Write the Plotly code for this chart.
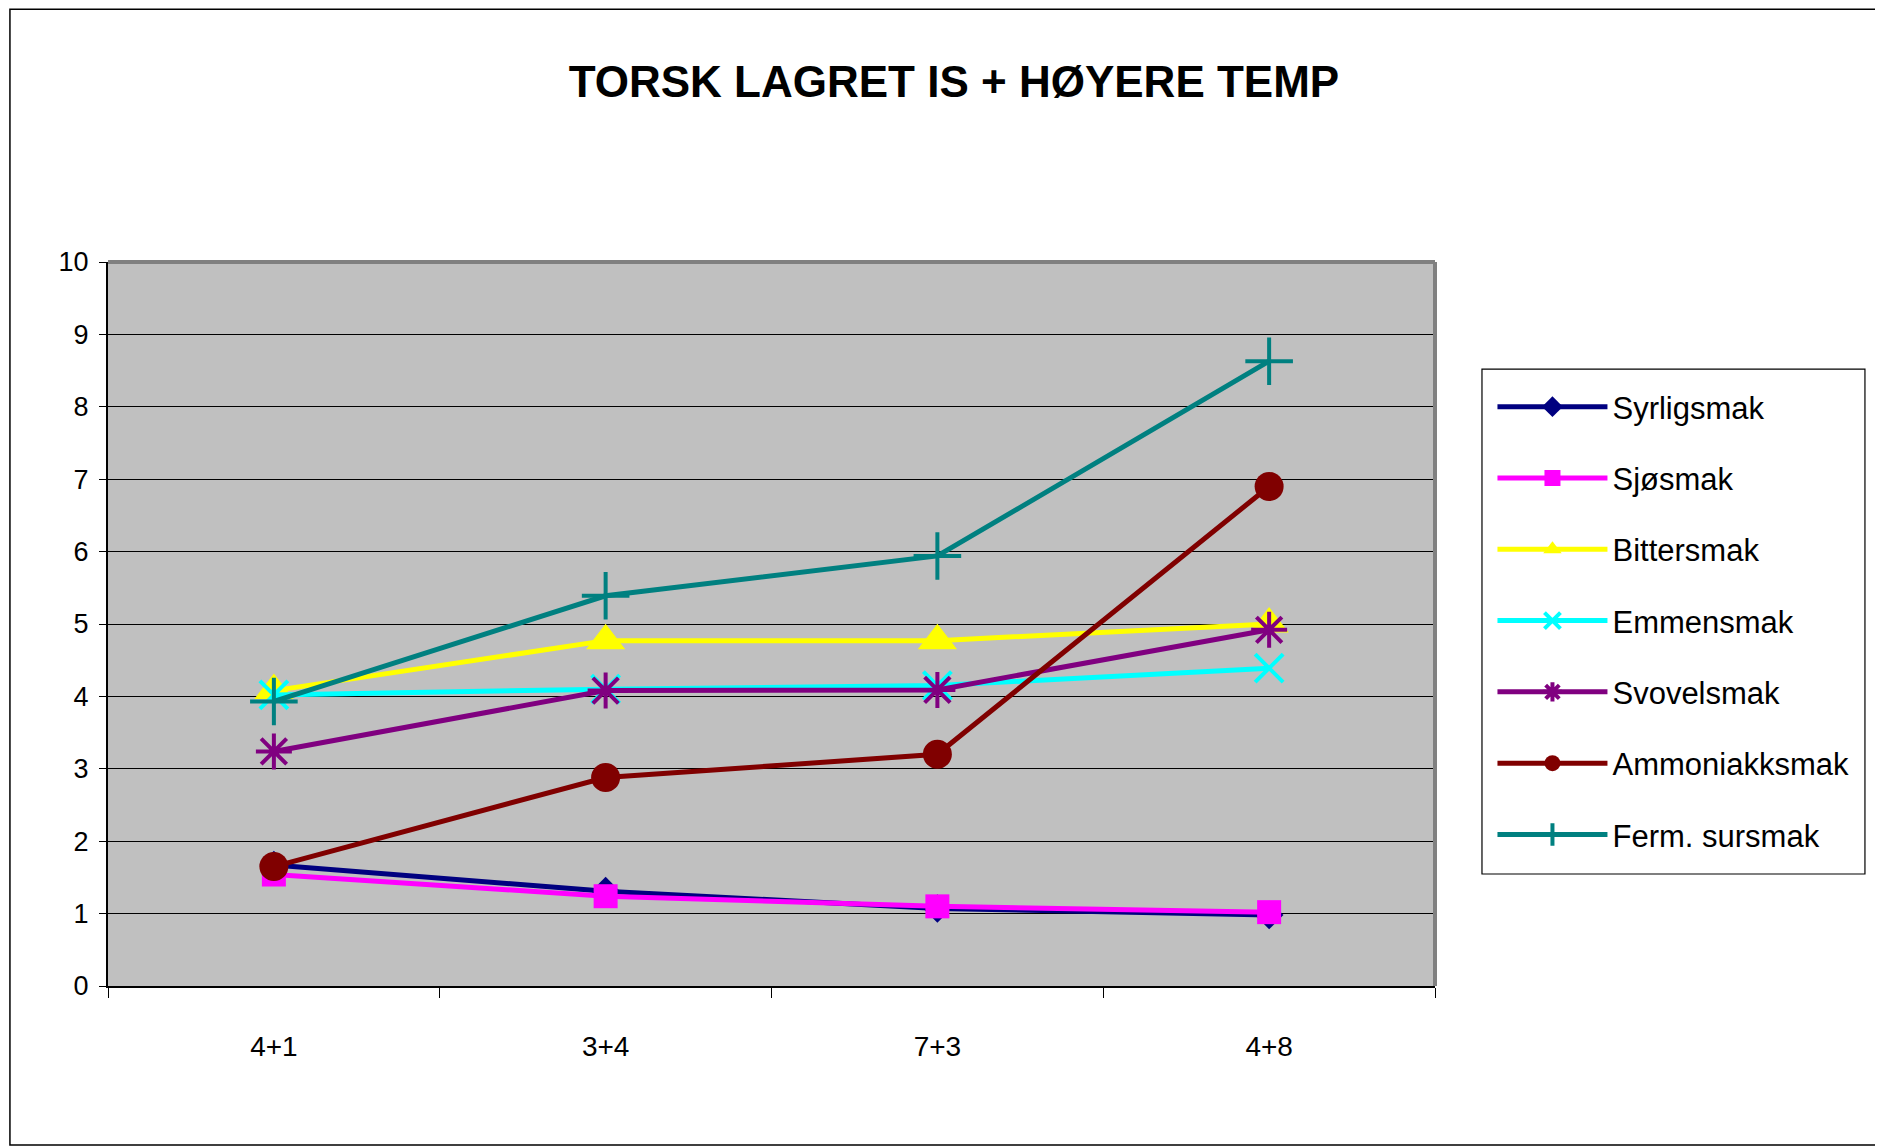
import plotly.graph_objects as go

# Data
categories = ['4+1', '3+4', '7+3', '4+8']

syrligsmak = [1.67, 1.31, 1.07, 0.98]
sjosmak = [1.54, 1.24, 1.10, 1.02]
bittersmak = [4.08, 4.77, 4.77, 5.00]
emmensmak = [4.02, 4.10, 4.15, 4.39]
svovelsmak = [3.24, 4.08, 4.09, 4.92]
ammoniakksmak = [1.65, 2.88, 3.20, 6.90]
fermsursmak = [3.93, 5.39, 5.94, 8.63]

series_names = ['Syrligsmak', 'Sjøsmak', 'Bittersmak', 'Emmensmak',
                'Svovelsmak', 'Ammoniakksmak', 'Ferm. sursmak']
series_values = [syrligsmak, sjosmak, bittersmak, emmensmak,
                 svovelsmak, ammoniakksmak, fermsursmak]
series_colors = ['#000080', '#FF00FF', '#FFFF00', '#00FFFF',
                 '#800080', '#800000', '#008080']
series_symbols = ['diamond', 'square', 'triangle-up', 'x-thin-open',
                  'asterisk-open', 'circle', 'cross-thin-open']
series_sizes = [22, 24, 34, 28, 30, 29, 34]

FONT = 'Liberation Sans, Arial, sans-serif'

fig = go.Figure()

for i, (name, vals, col, sym, sz) in enumerate(zip(series_names, series_values,
                                                   series_colors, series_symbols, series_sizes)):
    fig.add_trace(go.Scatter(
        x=categories, y=vals, name=name,
        mode='lines+markers',
        legendgroup='g%d' % i,
        line=dict(color=col, width=5),
        marker=dict(symbol=sym, size=sz, color=col,
                    line=dict(color=col, width=4 if 'open' in sym else 0)),
    ))

# Outer chart border, legend box and plot-area frame
fig.add_shape(type='rect', xref='paper', yref='paper',
              x0=-0.0739, x1=1.345, y0=-0.2196, y1=1.349,
              line=dict(color='#000000', width=1.5), layer='below')
fig.add_shape(type='rect', xref='paper', yref='paper',
              x0=1.0354, x1=1.324, y0=0.1547, y1=0.852,
              line=dict(color='#000000', width=1.2), fillcolor='white', layer='below')
fig.add_shape(type='line', xref='paper', yref='paper', x0=0, x1=1, y0=1, y1=1,
              line=dict(color='#808080', width=4))
fig.add_shape(type='line', xref='paper', yref='paper', x0=1, x1=1, y0=0, y1=1,
              line=dict(color='#808080', width=4))

fig.update_layout(
    width=1875, height=1139,
    margin=dict(l=100, r=448, t=254, b=161),
    paper_bgcolor='white',
    plot_bgcolor='#C0C0C0',
    font=dict(family=FONT, color='black', size=28),
    title=dict(text='<b>TORSK LAGRET IS + HØYERE TEMP</b>',
               x=0.5045, xanchor='center', y=0.935, yanchor='middle',
               font=dict(family=FONT, size=44, color='black')),
    legend=dict(x=1.0433, xanchor='left', y=0.837, yanchor='top',
                bgcolor='rgba(0,0,0,0)', borderwidth=0,
                font=dict(family=FONT, size=31, color='black'),
                itemwidth=110, tracegroupgap=28, traceorder='grouped'),
    showlegend=True,
)

fig.update_xaxes(
    type='category', range=[-0.5, 3.5],
    showgrid=False, showline=True, linecolor='black', linewidth=2,
    ticks='outside', tickson='boundaries', ticklen=10, tickcolor='black',
    ticklabelstandoff=34,
    tickfont=dict(family=FONT, size=28),
)
fig.update_yaxes(
    range=[0, 10], dtick=1,
    showgrid=True, gridcolor='black', gridwidth=1,
    showline=True, linecolor='black', linewidth=2,
    ticks='outside', ticklen=7, tickcolor='black',
    ticklabelstandoff=5,
    tickfont=dict(family=FONT, size=27),
    zeroline=False,
)

fig.write_html('out.html')
